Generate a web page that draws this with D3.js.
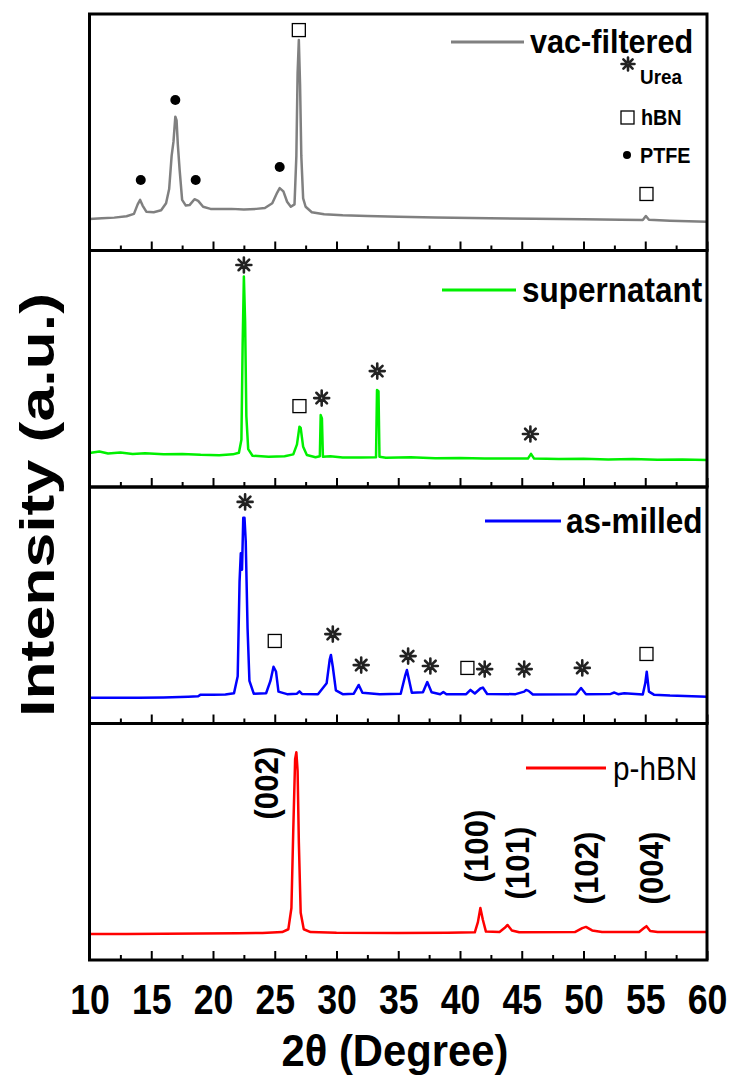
<!DOCTYPE html>
<html>
<head>
	<meta charset="utf-8">
	<title>XRD patterns - stacked panels</title>
	<script src="https://d3js.org/d3.v7.min.js"></script>
	<style>
	body {
		margin: 0;
		background: #ffffff;
	}
	text {
		font-family: "Liberation Sans", Arial, sans-serif;
		font-weight: bold;
		fill: #000000;
	}
	.frame {
		fill: none;
		stroke: #000000;
		stroke-width: 3;
	}
	.trace {
		fill: none;
		stroke-width: 2.5;
		stroke-linejoin: round;
	}
	.tick line {
		stroke: #000000;
		stroke-width: 2;
	}
	.domain {
		display: none;
	}
	.star {
		fill: none;
		stroke: #222222;
		stroke-width: 2.6;
		stroke-linecap: round;
	}
	</style>
</head>
<body>
<div class="chartContainer"></div>
<script>
	//x axis: 2theta in degrees
	var xTicks = [10, 15, 20, 25, 30, 35, 40, 45, 50, 55, 60];
	var xMinorTicks = [12.5, 17.5, 22.5, 27.5, 32.5, 37.5, 42.5, 47.5, 52.5, 57.5];

	//one panel per pattern, top to bottom
	var seriesNames = ["vac-filtered", "supernatant", "as-milled", "p-hBN"];
	var seriesColors = ["#808080", "#00f000", "#0000ff", "#ff0000"];

	//intensity as % of the panel height
	var vacFiltered = [[10,13.3],[11,13.6],[12,13.9],[13,14.5],[13.6,15.5],[13.9,19.5],[14.1,21.4],[14.3,19],[14.6,16.4],[15.2,16.2],[15.8,17],[16.2,20],[16.45,26],[16.65,40],[16.8,46],[16.95,56.6],[17.05,55],[17.15,45],[17.3,34],[17.5,21.4],[17.8,19],[18.1,19.2],[18.5,21.7],[18.8,21],[19.2,18.5],[19.8,17.6],[20.5,17.5],[21.5,17.6],[22.5,17.3],[23.5,17.6],[24.2,18],[24.8,20],[25.2,24.5],[25.4,26.4],[25.7,25],[26.0,20.6],[26.3,18.5],[26.6,19.5],[26.75,40],[26.85,75],[26.95,89],[27.05,70],[27.15,40],[27.3,22],[27.5,18.5],[28.0,16.2],[29,15.3],[30.5,14.9],[32.5,14.6],[35,14.3],[38,14],[42.4,13.6],[46,13.4],[50,13.2],[53,13],[54.8,12.9],[55.05,14.6],[55.3,13],[57,12.6],[60,12.2]];

	var supernatant = [[10,14.4],[10.8,15],[11.5,14.2],[12.5,14.6],[13.5,14],[14.5,14.3],[16,13.8],[17.5,14],[19,13.6],[20.5,13.4],[21.6,13.8],[22.1,14.5],[22.3,20],[22.4,60],[22.5,89],[22.6,70],[22.7,30],[22.85,16],[23.2,13.2],[24.5,12.8],[25.8,13],[26.5,13.8],[26.8,18],[27.0,25.5],[27.1,25],[27.3,17],[27.6,13.5],[28.3,12.6],[28.65,13],[28.72,30.4],[28.82,29],[28.9,12.8],[29.5,13],[30.5,12.5],[32,12.5],[33.2,12.6],[33.28,41],[33.4,40.5],[33.48,12.8],[34,12.4],[36,12.6],[38,12.2],[40,12.3],[42,12],[44,12.1],[45.5,12],[45.75,14],[46,12],[48,11.8],[50,11.9],[52,11.6],[54,11.8],[56,11.5],[58,11.6],[60,11.4]];

	var asMilled = [[10,10.9],[12,10.9],[14,10.9],[16,11],[18,11.3],[18.8,11.5],[19.0,12.2],[20,12.2],[21,12.3],[21.7,12.8],[22.0,20],[22.15,60],[22.25,72],[22.35,65],[22.45,87],[22.55,87],[22.65,77],[22.8,40],[22.95,18],[23.3,12.6],[24.3,12.8],[24.65,18],[24.9,24],[25.1,22],[25.3,13.5],[26,12.4],[26.8,12.6],[27.0,13.6],[27.2,12.5],[28.5,12.4],[29.2,17],[29.45,27],[29.55,29],[29.7,24],[29.95,14],[30.5,12.4],[31.4,12.6],[31.8,16.3],[32.1,13],[33.5,12.4],[35.2,12.6],[35.55,20],[35.7,22.6],[35.85,19],[36.1,13],[37,13.2],[37.35,17.5],[37.7,13.2],[38.4,12.4],[38.65,13.3],[38.9,12.4],[40.5,12.4],[40.85,14.2],[41.2,12.7],[41.65,14.8],[41.85,15.2],[42.2,12.5],[44.5,12.4],[45.2,13.5],[45.35,14.2],[45.55,13.8],[45.9,12.3],[49.4,12.4],[49.8,15],[50.2,12.4],[52.2,12.5],[52.5,13.1],[52.8,12.4],[53.3,12.8],[54.8,12.3],[55.0,17],[55.12,21.9],[55.3,13.5],[55.7,12.2],[57,11.8],[60,11.3]];

	var pristineHBN = [[10,11],[13,11],[16,11.1],[19,11.2],[22,11.3],[24,11.4],[25.6,11.8],[26.1,13],[26.35,22],[26.5,55],[26.65,85],[26.75,87.8],[26.85,80],[26.95,50],[27.1,20],[27.35,13],[27.9,11.8],[30,11.5],[35,11.4],[39,11.5],[41.2,11.7],[41.45,16],[41.65,22],[41.85,17],[42.1,12],[43.2,11.8],[43.6,13.5],[43.85,14.8],[44.2,12.5],[44.8,11.7],[49.3,11.8],[49.9,13.5],[50.2,14],[50.7,12.5],[51.5,11.8],[54.5,11.8],[54.9,13.5],[55.1,14.3],[55.4,12.3],[56,11.8],[60,11.8]];

	var seriesData = [vacFiltered, supernatant, asMilled, pristineHBN];

	//phase markers: [2theta, % height, type]  s = hBN square, c = PTFE dot, a = urea asterisk
	var vacMarks = [[14.15,29.8,"c"],[16.95,63.6,"c"],[18.6,29.8,"c"],[25.4,35.3,"c"],[26.95,93.2,"s"],[55.1,23.9,"s"]];
	var supMarks = [[22.5,93.9,"a"],[27.0,34.2,"s"],[28.8,37.6,"a"],[33.3,49,"a"],[45.7,22.4,"a"]];
	var millMarks = [[22.6,93.7,"a"],[25.0,34.9,"s"],[29.7,37.8,"a"],[32.0,24.7,"a"],[35.8,28.5,"a"],[37.6,24.3,"a"],[40.6,23.5,"s"],[42.0,23,"a"],[45.2,23,"a"],[49.9,23.5,"a"],[55.1,29.4,"s"]];
	var hbnMarks = [];
	var seriesMarks = [vacMarks, supMarks, millMarks, hbnMarks];

	//hBN reflections labelled in the bottom panel: [2theta, % height of label centre, label]
	var hklLabels = [[24.3,74.8,"(002)"],[41.3,48.2,"(100)"],[44.6,41,"(101)"],[50.2,38.9,"(102)"],[55.5,38.9,"(004)"]];

	var W = 733, H = 1075;
	var margin = {top: 14, left: 89.5, right: 26, bottom: 115};
	var plotW = W - margin.left - margin.right;
	var panelH = (H - margin.top - margin.bottom) / seriesNames.length;

	var svg = d3.select(".chartContainer").append("svg")
		.attr("width", W)
		.attr("height", H);

	var x = d3.scaleLinear().domain([10, 60]).range([margin.left, margin.left + plotW]);

	//eight spoke asterisk used for the urea reflections
	var star8 = {
		draw: function(context, size) {
			var r = Math.sqrt(size) / 2, r0 = r * 0.25;
			for (var k = 0; k < 8; k++) {
				var a = k * Math.PI / 4;
				context.moveTo(r0 * Math.cos(a), r0 * Math.sin(a));
				context.lineTo(r * Math.cos(a), r * Math.sin(a));
			}
		}
	};
	var starPath = d3.symbol().type(star8);

	//narrow bold look of the original: squeeze text horizontally
	var squeezed = function(g, tx, ty, size, sx, str) {
		return g.append("text")
			.attr("transform", "translate(" + tx + "," + ty + ") scale(" + sx + ",1)")
			.style("font-size", size + "px")
			.text(str);
	};

	//legend layout per panel: line start/end, line y, text start and baseline
	var legendPos = [
		{x1: 451, x2: 524, ly: 42, tx: 530, ty: 53, size: 34, weight: "bold"},
		{x1: 442, x2: 516, ly: 290, tx: 522, ty: 302, size: 35, weight: "bold"},
		{x1: 485, x2: 561, ly: 521, tx: 566, ty: 533, size: 35, weight: "bold"},
		{x1: 526, x2: 606, ly: 768, tx: 613, ty: 780, size: 33, weight: "normal"}
	];

	seriesNames.forEach(function(name, i) {
		var top = margin.top + i * panelH;
		var bottom = top + panelH;
		var y = d3.scaleLinear().domain([0, 100]).range([bottom, top]);
		var g = svg.append("g").attr("class", "panel");

		var line = d3.line()
			.x(function(d) { return x(d[0]); })
			.y(function(d) { return y(d[1]); });

		g.append("path")
			.attr("class", "trace")
			.attr("stroke", seriesColors[i])
			.attr("d", line(seriesData[i]));

		//inward ticks on the bottom edge of every panel
		g.append("g")
			.attr("transform", "translate(0," + bottom + ")")
			.call(d3.axisBottom(x).tickValues(xTicks).tickSize(-9).tickFormat(""));
		g.append("g")
			.attr("transform", "translate(0," + bottom + ")")
			.call(d3.axisBottom(x).tickValues(xMinorTicks).tickSize(-5).tickFormat(""));

		g.append("rect")
			.attr("class", "frame")
			.attr("x", margin.left)
			.attr("y", top)
			.attr("width", plotW)
			.attr("height", panelH);

		//legend
		var lp = legendPos[i];
		g.append("line")
			.attr("x1", lp.x1).attr("x2", lp.x2)
			.attr("y1", lp.ly).attr("y2", lp.ly)
			.attr("stroke", seriesColors[i])
			.attr("stroke-width", 3);
		squeezed(g, lp.tx, lp.ty, lp.size, 0.9, name)
			.style("font-weight", lp.weight);

		//phase markers
		seriesMarks[i].forEach(function(m) {
			var mx = x(m[0]), my = y(m[1]);
			if (m[2] == "s") {
				g.append("rect")
					.attr("x", mx - 6.5).attr("y", my - 6.5)
					.attr("width", 13).attr("height", 13)
					.attr("fill", "none")
					.attr("stroke", "#000000")
					.attr("stroke-width", 1.3);
			} else if (m[2] == "c") {
				g.append("circle")
					.attr("cx", mx).attr("cy", my)
					.attr("r", 5)
					.attr("fill", "#000000");
			} else {
				g.append("path")
					.attr("class", "star")
					.attr("transform", "translate(" + mx + "," + my + ")")
					.attr("d", starPath.size(225));
			}
		});

		if (i == 3) {
			//hkl labels, rotated
			hklLabels.forEach(function(h) {
				g.append("text")
					.attr("transform", "translate(" + x(h[0]) + "," + y(h[1]) + ") rotate(-90) scale(0.92,1)")
					.attr("text-anchor", "middle")
					.attr("dominant-baseline", "central")
					.style("font-size", "34px")
					.text(h[2]);
			});

			//tick labels under the bottom panel
			svg.append("g")
				.attr("transform", "translate(0," + bottom + ")")
				.call(d3.axisBottom(x).tickValues(xTicks).tickSize(0).tickPadding(24).tickFormat(d3.format("d")))
				.selectAll("text")
				.attr("transform", "scale(0.85,1)")
				.style("font-size", "42px")
				.style("font-family", "'Liberation Sans', Arial, sans-serif")
				.style("font-weight", "bold")
				.attr("fill", "#000000");
		}
	});

	//legend for the phase symbols in the top panel
	var symG = svg.append("g");
	symG.append("path").attr("class", "star")
		.attr("transform", "translate(628,64)")
		.attr("d", starPath.size(169));
	squeezed(symG, 640, 84, 21, 0.9, "Urea");
	symG.append("rect").attr("x", 621).attr("y", 111).attr("width", 13).attr("height", 13)
		.attr("fill", "none").attr("stroke", "#000000").attr("stroke-width", 1.3);
	squeezed(symG, 641, 125, 22, 0.9, "hBN");
	symG.append("circle").attr("cx", 627).attr("cy", 155).attr("r", 4).attr("fill", "#000000");
	squeezed(symG, 640, 163, 22, 0.9, "PTFE");

	//axis titles
	squeezed(svg, 395, 1066, 44, 0.95, "2\u03B8 (Degree)")
		.attr("text-anchor", "middle");

	svg.append("text")
		.attr("transform", "translate(54,505) rotate(-90)")
		.attr("text-anchor", "middle")
		.attr("textLength", 424)
		.attr("lengthAdjust", "spacingAndGlyphs")
		.style("font-size", "48px")
		.text("Intensity (a.u.)");
</script>
</body>
</html>
